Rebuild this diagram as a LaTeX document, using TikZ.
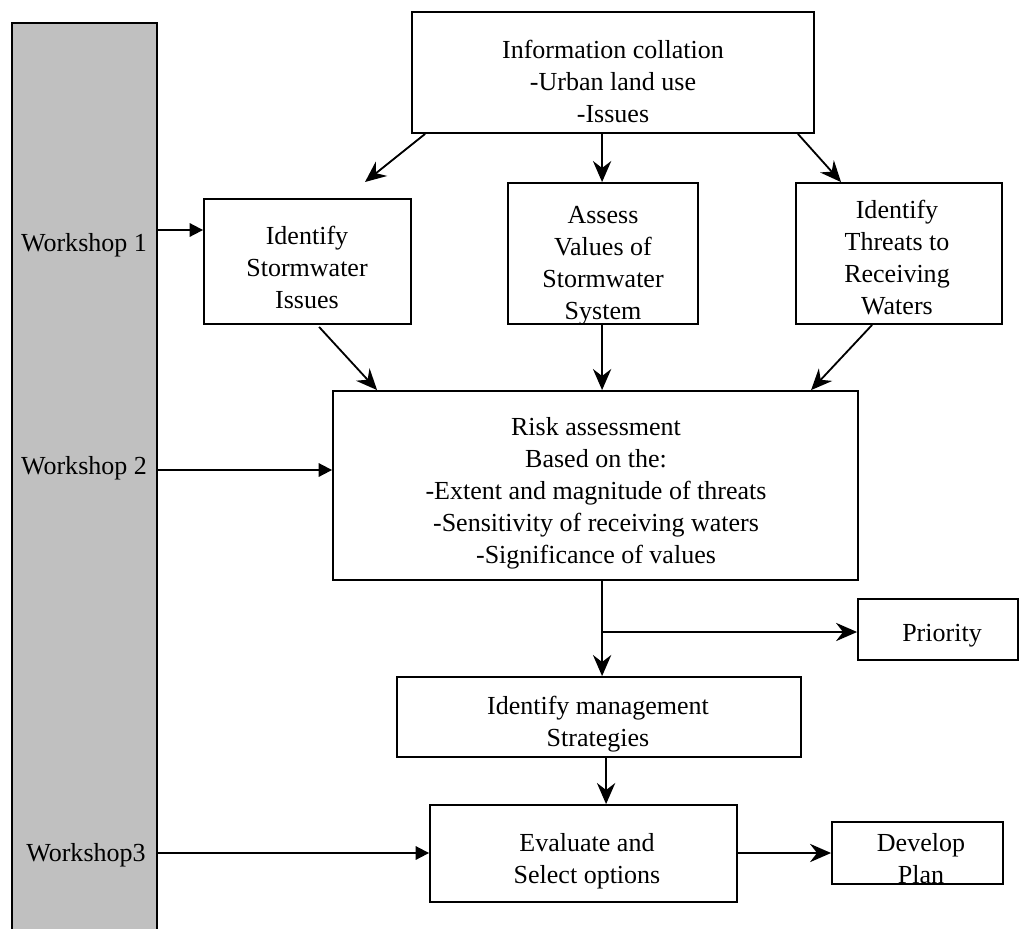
\documentclass[tikz,border=0pt]{standalone}
\usepackage{fontspec}
\setmainfont{Liberation Serif}
\usetikzlibrary{arrows.meta,fit,calc}
\definecolor{bargray}{HTML}{C0C0C0}
\newcommand{\stk}[1]{\begin{tabular}{@{}c@{}}#1\end{tabular}}
\begin{document}
\begin{tikzpicture}[x=0.025cm,y=-0.025cm,
  font=\fontsize{18.5}{22.7}\selectfont,
  box/.style={draw, line width=1.3pt, inner sep=0pt, fill=white},
  bar/.style={draw, line width=1.3pt, inner sep=0pt, fill=bargray},
  txt/.style={inner sep=0pt, align=center},
  arr/.style={line width=1.3pt, -{Stealth[length=15pt,width=13pt,inset=5pt]}},
  warr/.style={line width=1.3pt, -{Triangle[length=9.5pt,width=9.5pt]}}]
\useasboundingbox (0,0) rectangle (1020,928);
% left bar
\node[bar, fit={(12,23) (157,945)}] (bar) {};
% boxes
\node[box, fit={(412,12) (814,133)}] (info) {};
\node[box, fit={(204,199) (411,324)}] (sw) {};
\node[box, fit={(508,183) (698,324)}] (av) {};
\node[box, fit={(796,183) (1002,324)}] (th) {};
\node[box, fit={(333,391) (858,580)}] (risk) {};
\node[box, fit={(858,599) (1018,660)}] (pri) {};
\node[box, fit={(397,677) (801,757)}] (mgmt) {};
\node[box, fit={(430,805) (737,902)}] (eval) {};
\node[box, fit={(832,822) (1003,884)}] (dev) {};
% texts
\node[txt] (tinfo) at (613,84) {\stk{Information collation\\-Urban land use\\-Issues}};
\node[txt] (tsw) at (307,270) {\stk{Identify\\Stormwater\\Issues}};
\node[txt] (tav) at (603,265) {\stk{Assess\\Values of\\Stormwater\\System}};
\node[txt] (tth) at (897,260) {\stk{Identify\\Threats to\\Receiving\\Waters}};
\node[txt] (trisk) at (596,493) {\stk{Risk assessment\\Based on the:\\-Extent and magnitude of threats\\-Sensitivity of receiving waters\\-Significance of values}};
\node[txt] (tpri) at (942,636) {Priority};
\node[txt] (tmgmt) at (598,724) {\stk{Identify management\\Strategies}};
\node[txt] (teval) at (587,861) {\stk{Evaluate and\\Select options}};
\node[txt] (tdev) at (921,861) {\stk{Develop\\Plan}};
\node[txt] (w1) at (84,245) {Workshop 1};
\node[txt] (w2) at (84,468) {Workshop 2};
\node[txt] (w3) at (86,855) {Workshop3};
% free ends / branch points
\coordinate (swtip) at (365,182);
\coordinate (branch) at (603,632);
% connectors
\draw[arr] ($(info.south west)+(14,0)$) -- (swtip);
\draw[arr] ($(info.south west)+(191,0)$) -- ($(av.north west)+(95,0)$);
\draw[arr] ($(info.south east)+(-17,0)$) -- ($(th.north west)+(46,0)$);
\draw[arr] ($(sw.south west)+(116,2)$) -- ($(risk.north west)+(45,0)$);
\draw[arr] ($(av.south west)+(95,0)$) -- ($(risk.north west)+(270,0)$);
\draw[arr] ($(th.south west)+(77,0)$) -- ($(risk.north west)+(479,0)$);
\draw[arr] ($(risk.south west)+(270,0)$) -- ($(mgmt.north west)+(206,0)$);
\draw[arr] (branch) -- (branch -| pri.west);
\draw[arr] ($(mgmt.south west)+(210,0)$) -- ($(eval.north west)+(177,0)$);
\draw[arr] (eval.east |- 0,853) -- (dev.west |- 0,853);
\draw[warr] (bar.east |- 0,230) -- (sw.west |- 0,230);
\draw[warr] (bar.east |- 0,470) -- (risk.west |- 0,470);
\draw[warr] (bar.east |- 0,853) -- (eval.west |- 0,853);
\end{tikzpicture}
\end{document}
